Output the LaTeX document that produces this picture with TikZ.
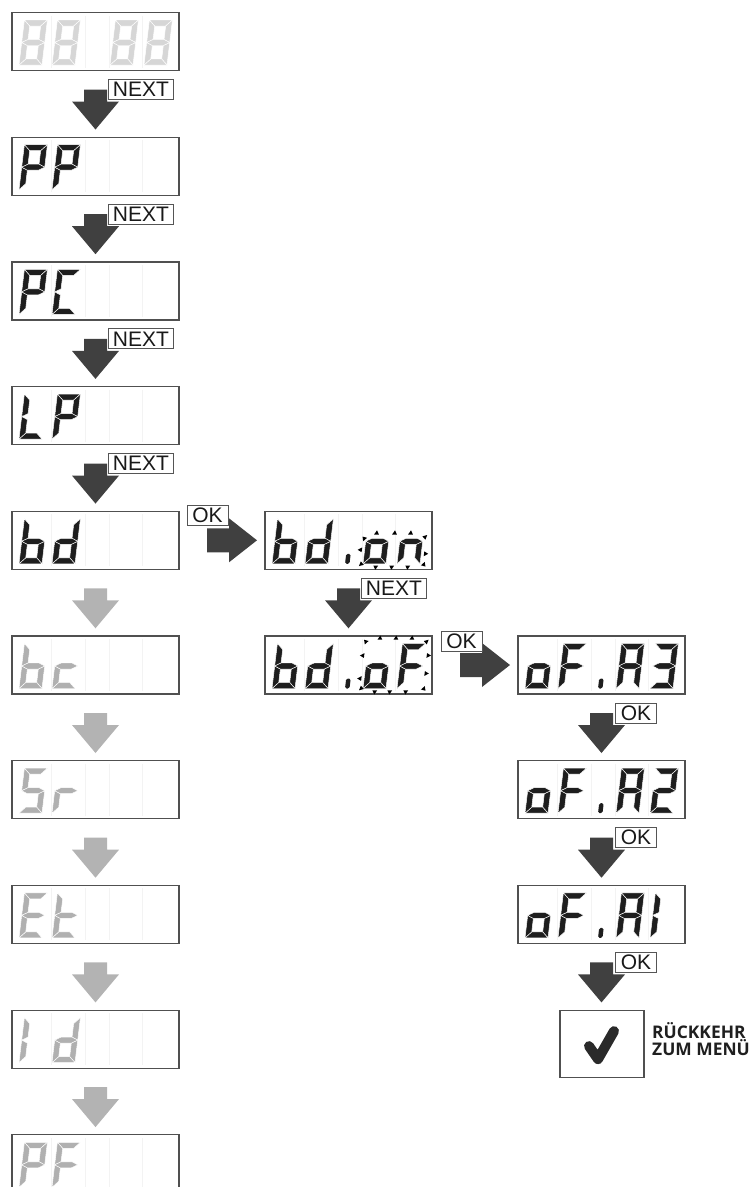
\documentclass[tikz,border=0pt]{standalone}
\usepackage{fontspec}
\setmainfont{Open Sans}
\newfontfamily\lblfont{Liberation Sans}
\usetikzlibrary{calc}
\definecolor{boxc}{HTML}{505050}
\definecolor{lblc}{HTML}{555555}
\definecolor{arrd}{HTML}{404040}
\definecolor{arrg}{HTML}{B3B3B3}
\definecolor{segd}{HTML}{1E1E1E}
\definecolor{segg}{HTML}{B0B0B0}
\definecolor{segl}{HTML}{D6D6D6}
\definecolor{divc}{HTML}{F3F3F3}
\definecolor{chkc}{HTML}{2A2A2A}
\expandafter\def\csname sseg-a\endcsname{(0,45) -- (23,45) -- (17,39) -- (6,39) -- cycle}
\expandafter\def\csname sseg-b\endcsname{(23,45) -- (23,22.5) -- (17,25.5) -- (17,39) -- cycle}
\expandafter\def\csname sseg-c\endcsname{(23,22.5) -- (23,0) -- (17,6) -- (17,19.5) -- cycle}
\expandafter\def\csname sseg-d\endcsname{(0,0) -- (23,0) -- (17,6) -- (6,6) -- cycle}
\expandafter\def\csname sseg-e\endcsname{(0,22.5) -- (6,19.5) -- (6,6) -- (0,0) -- cycle}
\expandafter\def\csname sseg-f\endcsname{(0,45) -- (6,39) -- (6,25.5) -- (0,22.5) -- cycle}
\expandafter\def\csname sseg-g\endcsname{(0,22.5) -- (6,25.5) -- (17,25.5) -- (23,22.5) -- (17,19.5) -- (6,19.5) -- cycle}
\newcommand\segdigit[3]{\foreach \s in {#2}{\fill[#3,draw=white,line width=0.45pt,shift={(#1,0)}] \csname sseg-\s\endcsname;}}
\newcommand\dpoint[1]{\fill[#1,rounded corners=1.6pt] (80,0) rectangle (84.5,10);}
\newcommand\btri[3]{\fill[black,shift={(#1,#2)},rotate=#3] (2.5,0) -- (-1.7,2.4) -- (-1.7,-2.4) -- cycle;}
\newcommand\lcd[2]{\begin{scope}[shift={(#1.south west)},x=1pt,y=1pt,yshift=5.5pt,xslant=0.12]#2\end{scope}}
\newcommand\dividers[1]{\foreach \dx in {39,73,97,130}{\draw[divc,line width=0.5pt] ([shift={(\dx,3)}]#1.north west) -- ([shift={(\dx,55)}]#1.north west);}}
\newcommand\varrow[2]{\begin{scope}[shift={(#1.south)}]\fill[#2] (-11.5,19) -- (11.5,19) -- (11.5,31) -- (23.5,31) -- (0,59) -- (-23.5,31) -- (-11.5,31) -- cycle;\end{scope}}
\newcommand\harrow[2]{\begin{scope}[shift={(#1.east)}]\fill[#2] (28,-12) -- (50,-12) -- (50,-22) -- (78,0) -- (50,22) -- (50,12) -- (28,12) -- cycle;\end{scope}}
\begin{document}
\begin{tikzpicture}[x=1pt,y=-1pt,
  dbox/.style={draw=boxc,line width=1.2pt,minimum width=167pt,minimum height=58pt,inner sep=0pt,outer sep=0pt,anchor=north west},
  lbl/.style={draw=lblc,line width=0.9pt,fill=white,inner sep=0pt,outer sep=0pt,anchor=north west,font=\lblfont\fontsize{21}{21}\selectfont,text=black!90},
  nextlbl/.style={lbl,minimum width=65pt,minimum height=20pt},
  oklbl/.style={lbl,minimum width=41pt,minimum height=20pt},
  endtxt/.style={anchor=base west,inner sep=0pt,font=\bfseries\fontsize{17.4}{17.4}\selectfont,text=black!88}]
\useasboundingbox (0,0) rectangle (751,1187);
\clip (0,0) rectangle (751,1187);
% left column boxes
\node[dbox] (b0) at (12,12.5) {};
\node[dbox] (b1) at (12,137.2) {};
\node[dbox] (b2) at (12,261.9) {};
\node[dbox] (b3) at (12,386.6) {};
\node[dbox] (b4) at (12,511.3) {};
\node[dbox] (b5) at (12,636.0) {};
\node[dbox] (b6) at (12,760.7) {};
\node[dbox] (b7) at (12,885.4) {};
\node[dbox] (b8) at (12,1010.1) {};
\node[dbox] (b9) at (12,1134.8) {};
% right column boxes
\node[dbox] (on) at (265,511.3) {};
\node[dbox] (off) at (265,636.0) {};
\node[dbox] (a3) at (518,636.0) {};
\node[dbox] (a2) at (518,760.7) {};
\node[dbox] (a1) at (518,885.4) {};
\node[draw=boxc,line width=1.2pt,minimum width=84pt,minimum height=67pt,inner sep=0pt,outer sep=0pt,anchor=north west] (chk) at (560,1010.1) {};
\foreach \b in {b0,b1,b2,b3,b4,b5,b6,b7,b8,b9,on,off,a3,a2,a1}{\dividers{\b}}
% digits
\lcd{b0}{\segdigit{7}{a,b,c,d,e,f,g}{segl}\segdigit{40}{a,b,c,d,e,f,g}{segl}\segdigit{98}{a,b,c,d,e,f,g}{segl}\segdigit{132}{a,b,c,d,e,f,g}{segl}}
\lcd{b1}{\segdigit{7}{a,b,e,f,g}{segd}\segdigit{40}{a,b,e,f,g}{segd}}
\lcd{b2}{\segdigit{7}{a,b,e,f,g}{segd}\segdigit{40}{a,d,e,f}{segd}}
\lcd{b3}{\segdigit{7}{d,e,f}{segd}\segdigit{40}{a,b,e,f,g}{segd}}
\lcd{b4}{\segdigit{7}{c,d,e,f,g}{segd}\segdigit{40}{b,c,d,e,g}{segd}}
\lcd{b5}{\segdigit{7}{c,d,e,f,g}{segg}\segdigit{40}{d,e,g}{segg}}
\lcd{b6}{\segdigit{7}{a,c,d,f,g}{segg}\segdigit{40}{e,g}{segg}}
\lcd{b7}{\segdigit{7}{a,d,e,f,g}{segg}\segdigit{40}{d,e,f,g}{segg}}
\lcd{b8}{\segdigit{7}{e,f}{segg}\segdigit{40}{b,c,d,e,g}{segg}}
\lcd{b9}{\segdigit{7}{a,b,e,f,g}{segg}\segdigit{40}{a,e,f,g}{segg}}
\lcd{on}{\segdigit{7}{c,d,e,f,g}{segd}\segdigit{40}{b,c,d,e,g}{segd}\dpoint{segd}\segdigit{98}{c,d,e,g}{segd}\segdigit{132}{c,e,g}{segd}
  \btri{108}{31}{90}\btri{126}{31}{90}\btri{142}{31}{90}
  \btri{111}{-3.5}{-90}\btri{127}{-3.5}{-90}\btri{143}{-3.5}{-90}
  \btri{93.5}{14}{180}\btri{159.5}{10}{0}
  \btri{96}{25.5}{135}\btri{157}{27}{45}\btri{159}{-1}{-45}\btri{96}{-0.5}{-135}}
\lcd{off}{\segdigit{7}{c,d,e,f,g}{segd}\segdigit{40}{b,c,d,e,g}{segd}\dpoint{segd}\segdigit{98}{c,d,e,g}{segd}\segdigit{132}{a,e,f,g}{segd}
  \btri{109}{50.5}{90}\btri{125}{50.5}{90}\btri{141}{50.5}{90}
  \btri{110}{-3.5}{-90}\btri{125}{-3.5}{-90}\btri{141}{-3.5}{-90}
  \btri{93.5}{10}{180}\btri{93.5}{33}{180}\btri{159.5}{15}{0}\btri{159.5}{33}{0}
  \btri{95}{47}{135}\btri{156}{47}{45}\btri{159}{-0.5}{-45}\btri{96}{0}{-135}}
\lcd{a3}{\segdigit{7}{c,d,e,g}{segd}\segdigit{40}{a,e,f,g}{segd}\dpoint{segd}\segdigit{98}{a,b,c,e,f,g}{segd}\segdigit{132}{a,b,c,d,g}{segd}}
\lcd{a2}{\segdigit{7}{c,d,e,g}{segd}\segdigit{40}{a,e,f,g}{segd}\dpoint{segd}\segdigit{98}{a,b,c,e,f,g}{segd}\segdigit{132}{a,b,d,e,g}{segd}}
\lcd{a1}{\segdigit{7}{c,d,e,g}{segd}\segdigit{40}{a,e,f,g}{segd}\dpoint{segd}\segdigit{98}{a,b,c,e,f,g}{segd}\segdigit{132}{e,f}{segd}}
% arrows
\varrow{b0}{arrd}\varrow{b1}{arrd}\varrow{b2}{arrd}\varrow{b3}{arrd}
\varrow{b4}{arrg}\varrow{b5}{arrg}\varrow{b6}{arrg}\varrow{b7}{arrg}\varrow{b8}{arrg}
\varrow{on}{arrd}\varrow{a3}{arrd}\varrow{a2}{arrd}\varrow{a1}{arrd}
\harrow{b4}{arrd}\harrow{off}{arrd}
% labels
\node[nextlbl] (n0) at ([shift={(13,9)}]b0.south) {NEXT};
\node[nextlbl] (n1) at ([shift={(13,9)}]b1.south) {NEXT};
\node[nextlbl] (n2) at ([shift={(13,9)}]b2.south) {NEXT};
\node[nextlbl] (n3) at ([shift={(13,9)}]b3.south) {NEXT};
\node[nextlbl] (n4) at ([shift={(13,9)}]on.south) {NEXT};
\node[oklbl] (k0) at ([shift={(8,-35)}]b4.east) {OK};
\node[oklbl] (k1) at ([shift={(9,-34)}]off.east) {OK};
\node[oklbl] (k2) at ([shift={(14,9)}]a3.south) {OK};
\node[oklbl] (k3) at ([shift={(14,9)}]a2.south) {OK};
\node[oklbl] (k4) at ([shift={(14,9)}]a1.south) {OK};
% check mark
\draw[chkc,line width=10pt,line cap=round,line join=round] ([shift={(29,36)}]chk.north west) -- ([shift={(38,49)}]chk.north west) -- ([shift={(54,21)}]chk.north west);
\node[endtxt] (t1) at (652,1038) {RÜCKKEHR};
\node[endtxt] (t2) at (652,1055) {ZUM MENÜ};
\end{tikzpicture}
\end{document}
